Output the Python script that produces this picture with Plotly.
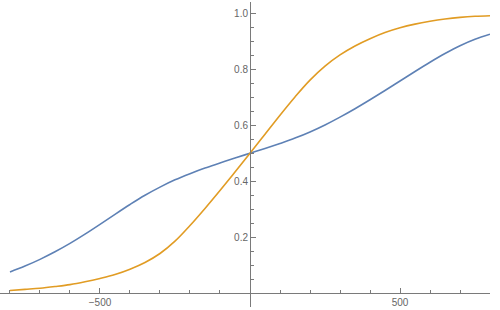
import plotly.graph_objects as go

x_vals = [-800, -750, -700, -650, -600, -550, -500, -450, -400, -350, -300, -250,
          -200, -150, -100, -50, 0, 50, 100, 150, 200, 250, 300, 350, 400, 450,
          500, 550, 600, 650, 700, 750, 800]
blue_vals = [0.076, 0.097, 0.121, 0.148, 0.178, 0.211, 0.246, 0.282, 0.317, 0.350,
             0.379, 0.405, 0.427, 0.447, 0.465, 0.483, 0.500, 0.517, 0.535, 0.554,
             0.576, 0.601, 0.629, 0.659, 0.691, 0.724, 0.758, 0.792, 0.825, 0.856,
             0.884, 0.907, 0.925]
orange_vals = [0.010, 0.014, 0.018, 0.024, 0.031, 0.041, 0.053, 0.067, 0.086, 0.110,
               0.142, 0.186, 0.242, 0.303, 0.367, 0.433, 0.500, 0.568, 0.636, 0.701,
               0.761, 0.811, 0.851, 0.883, 0.909, 0.931, 0.948, 0.961, 0.971, 0.979,
               0.985, 0.989, 0.991]

x_tick_vals = [-500, 500]
x_tick_text = ["\u2212500", "500"]
y_tick_vals = [0.2, 0.4, 0.6, 0.8, 1.0]
y_tick_text = ["0.2", "0.4", "0.6", "0.8", "1.0"]

axis_color = "#7a7a7a"
label_font = dict(family="Liberation Sans", size=10, color="#666666")

fig = go.Figure()
fig.add_trace(go.Scatter(x=x_vals, y=blue_vals, mode="lines",
                         line=dict(color="#5E81B5", width=1.6, shape="spline", smoothing=1.0),
                         showlegend=False))
fig.add_trace(go.Scatter(x=x_vals, y=orange_vals, mode="lines",
                         line=dict(color="#E19C24", width=1.6, shape="spline", smoothing=1.0),
                         showlegend=False))

y_lo, y_hi = -0.049, 1.040
fig.update_layout(
    width=500, height=310,
    margin=dict(l=0, r=0, t=0, b=0),
    paper_bgcolor="white", plot_bgcolor="white",
    xaxis=dict(
        range=[-833.3, 800], domain=[0, 0.98],
        anchor="free", position=(0 - y_lo) / (y_hi - y_lo) * (305 / 310) + 3 / 310,
        showgrid=False, zeroline=False,
        showline=True, linecolor=axis_color, linewidth=1,
        tickmode="array", tickvals=x_tick_vals, ticktext=x_tick_text,
        ticks="inside", ticklen=5, tickcolor=axis_color, tickwidth=1,
        tickfont=label_font,
        minor=dict(tickmode="linear", tick0=0, dtick=100, ticks="inside",
                   ticklen=3, tickcolor=axis_color, tickwidth=1),
    ),
    yaxis=dict(
        range=[y_lo, y_hi], domain=[3 / 310, 308 / 310],
        anchor="free", position=0.5,
        showgrid=False, zeroline=False,
        showline=True, linecolor=axis_color, linewidth=1,
        tickmode="array", tickvals=y_tick_vals, ticktext=y_tick_text,
        ticks="inside", ticklen=5, tickcolor=axis_color, tickwidth=1,
        tickfont=label_font,
        minor=dict(tickmode="linear", tick0=0, dtick=0.05, ticks="inside",
                   ticklen=3, tickcolor=axis_color, tickwidth=1),
    ),
)

fig.write_html("out.html")
